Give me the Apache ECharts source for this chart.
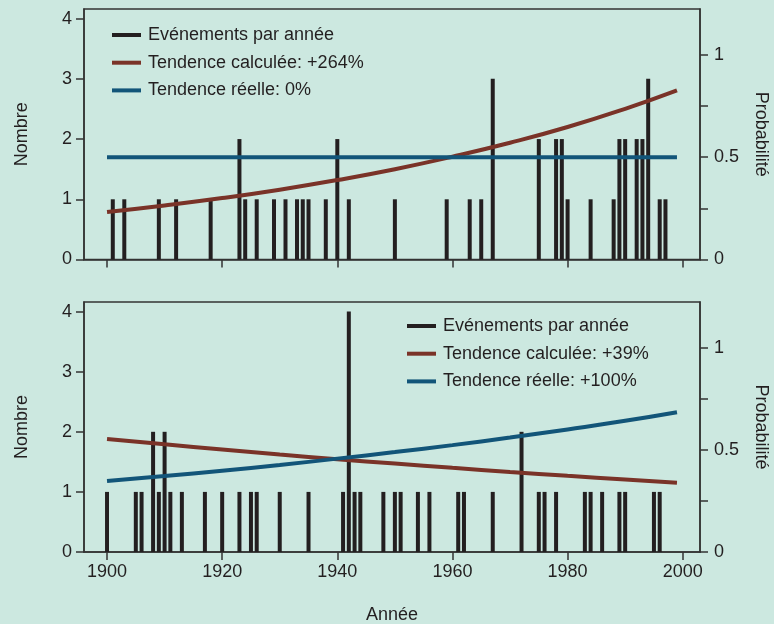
<!DOCTYPE html>
<html><head><meta charset="utf-8">
<script src="https://cdn.jsdelivr.net/npm/echarts@6/dist/echarts.min.js"></script>
<style>html,body{margin:0;padding:0;background:#cce8e0;}#c{width:774px;height:624px;}</style>
</head><body><div id="c"></div>
<script>
// ---- data ----
const yearsTop = [1901,1903,1909,1912,1918,1923,1924,1926,1929,1931,1933,1934,1935,1938,1940,1942,1950,1959,1963,1965,1967,1975,1978,1979,1980,1984,1988,1989,1990,1992,1993,1994,1996,1997];
const countsTop = [1,1,1,1,1,2,1,1,1,1,1,1,1,1,2,1,1,1,1,1,3,2,2,2,1,1,1,2,2,2,2,3,1,1];
const yearsBottom = [1900,1905,1906,1908,1909,1910,1911,1913,1917,1920,1923,1925,1926,1930,1935,1941,1942,1943,1944,1948,1950,1951,1954,1956,1961,1962,1967,1972,1975,1976,1978,1983,1984,1986,1989,1990,1995,1996];
const countsBottom = [1,1,1,2,1,2,1,1,1,1,1,1,1,1,1,1,4,1,1,1,1,1,1,1,1,1,1,2,1,1,1,1,1,1,1,1,1,1];
const trendYears = [1900,1910,1920,1930,1940,1950,1960,1970,1980,1990,1999];
const topCalc = [0.232,0.264,0.300,0.341,0.388,0.441,0.502,0.570,0.647,0.736,0.826];
const topReal = [0.5,0.5,0.5,0.5,0.5,0.5,0.5,0.5,0.5,0.5,0.5];
const botCalc = [0.553,0.527,0.502,0.477,0.454,0.433,0.412,0.392,0.373,0.355,0.339];
const botReal = [0.348,0.372,0.398,0.426,0.457,0.489,0.523,0.560,0.600,0.642,0.684];
const xTicks = [1900,1920,1940,1960,1980,2000];
const countTicks = [0,1,2,3,4];
const probTicks = [0,0.25,0.5,0.75,1];
const probLabels = [0,0.5,1];
const namesTop = ['Evénements par année','Tendence calculée: +264%','Tendence réelle: 0%'];
const namesBottom = ['Evénements par année','Tendence calculée: +39%','Tendence réelle: +100%'];

const C_BAR = '#231f20', C_RED = '#7a3328', C_BLUE = '#125579', C_TXT = '#231f20', C_AX = '#333333';
const FONT = '"Liberation Sans", Arial, sans-serif';
const FS = 18;
const COUNT_MAX = 4.16, PROB_MAX = COUNT_MAX / 3.4;

const zip = (a, b) => a.map((v, i) => [v, b[i]]);

function xAxis(idx, showLabels) {
  return {
    type: 'value', gridIndex: idx, min: 1896, max: 2003,
    splitLine: {show: false},
    axisLine: {show: true, onZero: false, lineStyle: {color: C_AX, width: 1.5}},
    axisTick: {show: true, customValues: xTicks, length: 8, lineStyle: {color: C_AX, width: 1.5}},
    axisLabel: {show: showLabels, customValues: xTicks, margin: 11, color: C_TXT, fontSize: FS, fontFamily: FONT,
      formatter: v => String(v)},
    name: showLabels ? 'Année' : '', nameLocation: 'middle', nameGap: 54,
    nameTextStyle: {color: C_TXT, fontSize: FS, fontFamily: FONT}
  };
}
function yLeft(idx) {
  return {
    type: 'value', gridIndex: idx, min: 0, max: COUNT_MAX, position: 'left',
    splitLine: {show: false},
    axisLine: {show: true, lineStyle: {color: C_AX, width: 1.5}},
    axisTick: {show: true, customValues: countTicks, length: 8, lineStyle: {color: C_AX, width: 1.5}},
    axisLabel: {customValues: countTicks, margin: 12, color: C_TXT, fontSize: FS, fontFamily: FONT},
    name: 'Nombre', nameLocation: 'middle', nameRotate: 90, nameGap: 53,
    nameTextStyle: {color: C_TXT, fontSize: FS, fontFamily: FONT}
  };
}
function yRight(idx) {
  return {
    type: 'value', gridIndex: idx, min: 0, max: PROB_MAX, position: 'right',
    splitLine: {show: false},
    axisLine: {show: true, lineStyle: {color: C_AX, width: 1.5}},
    axisTick: {show: true, customValues: probTicks, length: 8, lineStyle: {color: C_AX, width: 1.5}},
    axisLabel: {customValues: probLabels, margin: 14, color: C_TXT, fontSize: FS, fontFamily: FONT},
    name: 'Probabilité', nameLocation: 'middle', nameRotate: -90, nameGap: 52,
    nameTextStyle: {color: C_TXT, fontSize: FS, fontFamily: FONT}
  };
}
function barSeries(name, xi, yi, years, counts) {
  return {type: 'bar', name, xAxisIndex: xi, yAxisIndex: yi, data: zip(years, counts),
    barWidth: 4, itemStyle: {color: C_BAR}, silent: true, animation: false};
}
function lineSeries(name, xi, yi, vals, color) {
  return {type: 'line', name, xAxisIndex: xi, yAxisIndex: yi, data: zip(trendYears, vals),
    smooth: true, showSymbol: false, symbol: 'none', lineStyle: {color, width: 4}, itemStyle: {color},
    silent: true, animation: false, z: 3};
}
function legend(names, left, top) {
  return {data: names, orient: 'vertical', left, top, icon: 'rect', itemWidth: 29, itemHeight: 4,
    itemGap: 7.7, selectedMode: false,
    textStyle: {color: C_TXT, fontSize: FS, fontFamily: FONT, lineHeight: 20, padding: [0, 0, 0, 2]}};
}
function grid(top, height) {
  return {left: 84, width: 616, top, height, show: true, borderColor: C_AX, borderWidth: 1.5,
    backgroundColor: 'transparent', containLabel: false, outerBoundsMode: 'none'};
}

const chart = echarts.init(document.getElementById('c'), null, {renderer: 'canvas'});
chart.setOption({
  backgroundColor: '#cce8e0',
  animation: false,
  grid: [grid(9, 250.5), grid(302, 250)],
  legend: [legend(namesTop, 107, 20), legend(namesBottom, 402, 311)],
  xAxis: [xAxis(0, false), xAxis(1, true)],
  yAxis: [yLeft(0), yRight(0), yLeft(1), yRight(1)],
  series: [
    barSeries(namesTop[0], 0, 0, yearsTop, countsTop),
    lineSeries(namesTop[1], 0, 1, topCalc, C_RED),
    lineSeries(namesTop[2], 0, 1, topReal, C_BLUE),
    barSeries(namesBottom[0], 1, 2, yearsBottom, countsBottom),
    lineSeries(namesBottom[1], 1, 3, botCalc, C_RED),
    lineSeries(namesBottom[2], 1, 3, botReal, C_BLUE)
  ]
});
</script></body></html>
